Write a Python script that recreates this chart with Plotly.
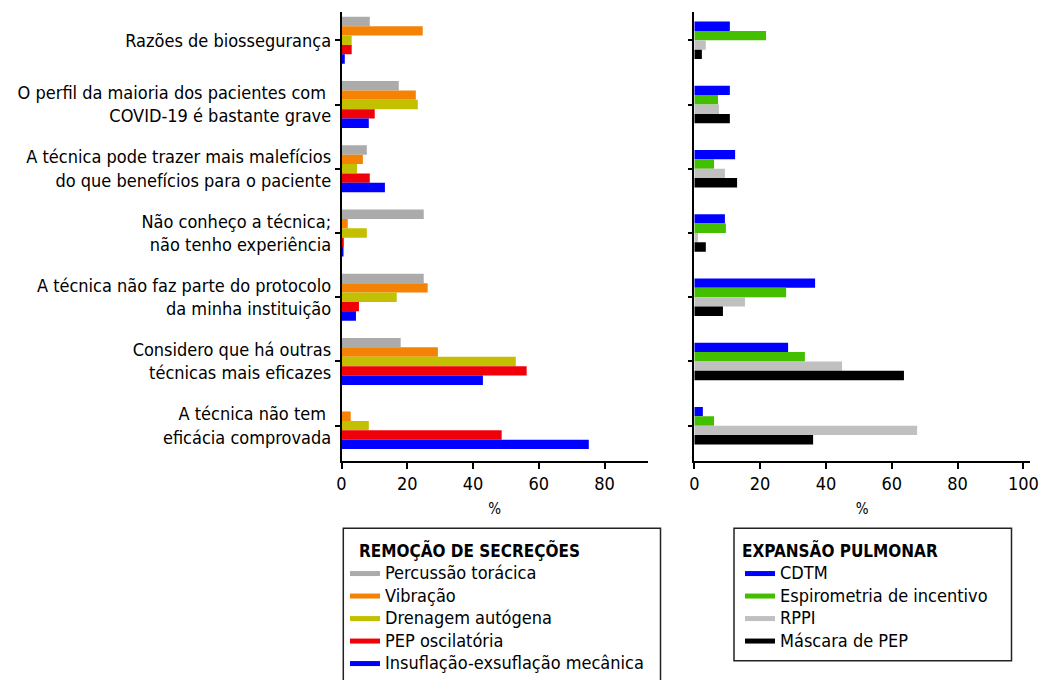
import plotly.graph_objects as go

# ---------------- data ----------------
categories = [
    "Razões de biossegurança",
    "O perfil da maioria dos pacientes com\u00a0<br>COVID-19 é bastante grave",
    "A técnica pode trazer mais malefícios<br>do que benefícios para o paciente",
    "Não conheço a técnica;<br>não tenho experiência",
    "A técnica não faz parte do protocolo<br>da minha instituição",
    "Considero que há outras<br>técnicas mais eficazes",
    "A técnica não tem\u00a0<br>eficácia comprovada",
]

# Remoção de secreções (%)
percussao = [8.6, 17.4, 7.7, 25.0, 25.0, 18.0, 0.0]
vibracao = [24.7, 22.6, 6.5, 1.9, 26.2, 29.3, 2.8]
drenagem = [3.1, 23.2, 4.7, 7.7, 16.8, 53.0, 8.3]
pep_osc = [3.1, 10.1, 8.6, 0.7, 5.3, 56.3, 48.7]
insuflacao = [1.0, 8.3, 13.2, 0.6, 4.4, 43.0, 75.2]

# Expansão pulmonar (%)
cdtm = [10.8, 10.8, 12.4, 9.3, 36.7, 28.5, 2.6]
espirometria = [21.8, 7.2, 6.0, 9.6, 27.9, 33.6, 6.0]
rppi = [3.5, 7.5, 9.3, 1.1, 15.4, 44.9, 67.7]
mascara = [2.3, 10.8, 13.0, 3.5, 8.7, 63.7, 36.1]

left_names = ["Percussão torácica", "Vibração", "Drenagem autógena",
              "PEP oscilatória", "Insuflação-exsuflação mecânica"]
right_names = ["CDTM", "Espirometria de incentivo", "RPPI", "Máscara de PEP"]
left_title = "REMOÇÃO DE SECREÇÕES"
right_title = "EXPANSÃO PULMONAR"
x_ticks = [0, 20, 40, 60, 80, 100]

# ---------------- style ----------------
FONT = "DejaVu Sans Condensed, DejaVu Sans, sans-serif"
left_colors = ["#ABABAB", "#F38205", "#C2C000", "#F00008", "#0000FF"]
right_colors = ["#0000FF", "#44BF00", "#C0C0C0", "#000000"]
BW = 0.146  # bar thickness in category units


def legend_label(name):
    return '<span style="font-size:18px">' + name + "</span>"


def legend_title(name, pad=""):
    return pad + '<span style="font-size:17px"><b>' + name + "</b></span>"


fig = go.Figure()

left_series = [percussao, vibracao, drenagem, pep_osc, insuflacao]
for i, (vals, name, col) in enumerate(zip(left_series, left_names, left_colors)):
    fig.add_trace(go.Bar(
        x=vals, y=categories, orientation="h", name=name,
        marker=dict(color=col, line=dict(width=0)),
        width=BW, offset=(i - 2.5) * BW,
        xaxis="x", yaxis="y", showlegend=False, legendgroup=name,
    ))
    fig.add_trace(go.Scatter(
        x=[None], y=[None], mode="lines", name=legend_label(name),
        line=dict(color=col, width=5), xaxis="x", yaxis="y",
        legend="legend", legendgroup=name, showlegend=True,
    ))

right_series = [cdtm, espirometria, rppi, mascara]
for i, (vals, name, col) in enumerate(zip(right_series, right_names, right_colors)):
    fig.add_trace(go.Bar(
        x=vals, y=categories, orientation="h", name=name,
        marker=dict(color=col, line=dict(width=0)),
        width=BW, offset=(i - 2.0) * BW,
        xaxis="x2", yaxis="y2", showlegend=False, legendgroup=name,
    ))
    fig.add_trace(go.Scatter(
        x=[None], y=[None], mode="lines", name=legend_label(name),
        line=dict(color=col, width=5), xaxis="x2", yaxis="y2",
        legend="legend2", legendgroup=name, showlegend=True,
    ))

W, H = 1039, 680
ydom = [(H - 461) / H, (H - 12) / H]
yrange = [6.55, -0.44]

axis_common = dict(showline=True, linecolor="black", linewidth=1.5,
                   ticks="outside", tickwidth=1.5, tickcolor="black",
                   showgrid=False, zeroline=False, automargin=False,
                   tickfont=dict(family=FONT, size=18, color="black"))

title_font = dict(family=FONT, size=15, color="black")

fig.update_layout(
    width=W, height=H,
    margin=dict(l=0, r=0, t=0, b=0),
    paper_bgcolor="white", plot_bgcolor="white",
    font=dict(family=FONT, size=18, color="black"),
    barmode="group",
    xaxis=dict(domain=[341.5 / W, 648 / W], range=[0, 93.2],
               tickvals=x_ticks[:5], anchor="y", ticklen=6,
               title=dict(text="%", font=title_font, standoff=10),
               **axis_common),
    yaxis=dict(domain=ydom, range=yrange, type="category",
               categoryorder="array", categoryarray=categories,
               anchor="x", ticklen=5, **axis_common),
    xaxis2=dict(domain=[694.3 / W, 1030 / W], range=[0, 102],
                tickvals=x_ticks, anchor="y2", ticklen=6,
                title=dict(text="%", font=title_font, standoff=10),
                **axis_common),
    yaxis2=dict(domain=ydom, range=yrange, type="category",
                categoryorder="array", categoryarray=categories,
                anchor="x2", showticklabels=False, ticklen=5,
                **axis_common),
    legend=dict(title=dict(text=legend_title(left_title, "\u00a0\u00a0"),
                           font=dict(family=FONT, size=21)),
                x=345 / W, y=(H - 530) / H, xanchor="left", yanchor="top",
                bgcolor="rgba(0,0,0,0)", borderwidth=0, itemwidth=30,
                font=dict(family=FONT, size=15), tracegroupgap=0,
                itemclick=False, itemdoubleclick=False),
    legend2=dict(title=dict(text=legend_title(right_title),
                            font=dict(family=FONT, size=21)),
                 x=740 / W, y=(H - 530) / H, xanchor="left", yanchor="top",
                 bgcolor="rgba(0,0,0,0)", borderwidth=0, itemwidth=30,
                 font=dict(family=FONT, size=15), tracegroupgap=0,
                 itemclick=False, itemdoubleclick=False),
    shapes=[
        dict(type="rect", xref="paper", yref="paper",
             x0=343.3 / W, x1=660.5 / W, y0=-0.05, y1=(H - 528.3) / H,
             line=dict(color="#222", width=1.5), fillcolor="rgba(0,0,0,0)"),
        dict(type="rect", xref="paper", yref="paper",
             x0=734 / W, x1=1011.5 / W, y0=(H - 660.7) / H, y1=(H - 528.3) / H,
             line=dict(color="#222", width=1.5), fillcolor="rgba(0,0,0,0)"),
    ],
)

fig.write_html(
    "out.html",
    config={"displayModeBar": False},
    post_script="document.body.style.margin='0';document.body.style.overflow='hidden';",
)
